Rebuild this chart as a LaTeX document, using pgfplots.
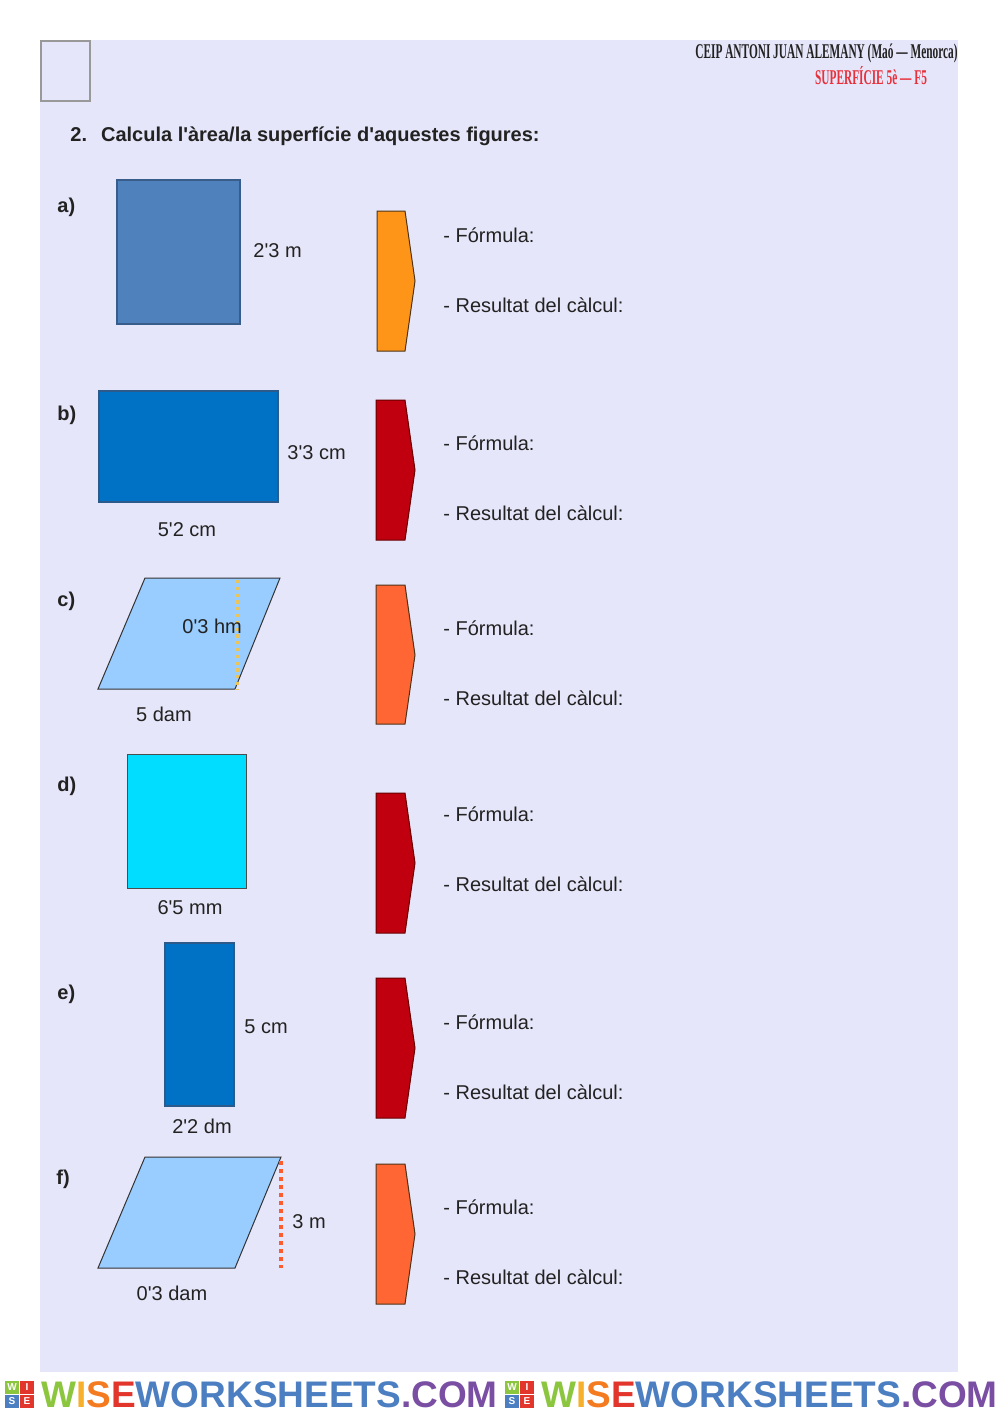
\documentclass[border=0pt]{standalone}
\usepackage{pgfplots}
\pgfplotsset{compat=1.18}
\usepackage{graphicx}
\usepackage{fontspec}
\setmainfont{Liberation Sans}
\newfontfamily\headfont{Liberation Serif}
\newcommand{\q}{\textquotesingle}
\definecolor{bg}{HTML}{E6E6FA}
\definecolor{txt}{HTML}{222222}
\definecolor{sqA}{HTML}{4F81BD}
\definecolor{sqAb}{HTML}{385D8A}
\definecolor{recB}{HTML}{0072C6}
\definecolor{recBb}{HTML}{2C5A8A}
\definecolor{para}{HTML}{99CCFF}
\definecolor{cyanD}{HTML}{00DDFF}
\definecolor{arOr}{HTML}{FF9518}
\definecolor{arRed}{HTML}{C0000F}
\definecolor{arOr2}{HTML}{FF6633}
\definecolor{hdred}{HTML}{E8303A}
\definecolor{dotY}{HTML}{EBC55A}
\definecolor{wG}{HTML}{8CC63F}
\definecolor{wY}{HTML}{F7B02C}
\definecolor{wO}{HTML}{F47B20}
\definecolor{wR}{HTML}{E2352B}
\definecolor{wB}{HTML}{4C7EC2}
\definecolor{wP}{HTML}{7A4EA3}

\begin{document}
\begin{tikzpicture}
\begin{axis}[
    scale only axis,
    width=500pt, height=706.5pt,
    xmin=0, xmax=1000, ymin=0, ymax=1413,
    y dir=reverse,
    axis lines=none, ticks=none,
    clip=false,
    every axis plot/.append style={no marks},
    nodes={inner sep=0pt, text=txt, font=\fontsize{10}{12}\selectfont},
]
% page and sheet background
\addplot[fill=white, draw=none] coordinates {(0,0) (1000,0) (1000,1413) (0,1413)} -- cycle;
\addplot[fill=bg, draw=none] coordinates {(40,40) (958,40) (958,1372) (40,1372)} -- cycle;
\addplot[draw=gray!80, line width=0.6pt] coordinates {(41,41) (90,41) (90,101) (41,101)} -- cycle;

% header
\node[anchor=east] at (axis cs:958,53) {\scalebox{0.54}[1]{\headfont\bfseries\fontsize{10.5}{12}\selectfont CEIP ANTONI JUAN ALEMANY (Maó \textemdash{} Menorca)}};
\node[anchor=center] at (axis cs:871,76) {\scalebox{0.54}[1]{\headfont\bfseries\fontsize{10.5}{12}\selectfont\color{hdred} SUPERFÍCIE 5è \textemdash{} F5}};
\node[anchor=west, font=\bfseries\fontsize{10}{12}\selectfont] at (axis cs:70,136) {2.\hspace{7pt}Calcula l\q àrea/la superfície d\q aquestes figures:};

% item letters
\node[anchor=west, font=\bfseries\fontsize{10}{12}\selectfont] at (axis cs:57,207) {a)};
\node[anchor=west, font=\bfseries\fontsize{10}{12}\selectfont] at (axis cs:57,415) {b)};
\node[anchor=west, font=\bfseries\fontsize{10}{12}\selectfont] at (axis cs:57,601) {c)};
\node[anchor=west, font=\bfseries\fontsize{10}{12}\selectfont] at (axis cs:57,786) {d)};
\node[anchor=west, font=\bfseries\fontsize{10}{12}\selectfont] at (axis cs:57,994) {e)};
\node[anchor=west, font=\bfseries\fontsize{10}{12}\selectfont] at (axis cs:56,1179) {f)};

% a) square
\addplot[fill=sqA, draw=sqAb, line width=1.2pt] coordinates {(117,180) (240,180) (240,324) (117,324)} -- cycle;
\node[anchor=west] at (axis cs:253,251) {2\q 3 m};
% b) rectangle
\addplot[fill=recB, draw=recBb, line width=0.8pt] coordinates {(99,391) (278,391) (278,502) (99,502)} -- cycle;
\node[anchor=west] at (axis cs:287,453) {3\q 3 cm};
\node[anchor=center] at (axis cs:187,530) {5\q 2 cm};
% c) parallelogram
\addplot[fill=para, draw=black!80, line width=0.5pt] coordinates {(98,689) (145,578) (280,578) (235,689)} -- cycle;
\addplot[draw=dotY, line width=1.6pt, dash pattern=on 1.6pt off 1.8pt] coordinates {(237,580) (237,689)};
\node[anchor=west] at (axis cs:182,626) {0\q 3 hm};
\node[anchor=center] at (axis cs:164,714) {5 dam};
% d) square
\addplot[fill=cyanD, draw=black!70, line width=0.5pt] coordinates {(127,754) (246,754) (246,888) (127,888)} -- cycle;
\node[anchor=center] at (axis cs:190,908) {6\q 5 mm};
% e) rectangle
\addplot[fill=recB, draw=recBb, line width=1.2pt] coordinates {(165,943) (234,943) (234,1106) (165,1106)} -- cycle;
\node[anchor=west] at (axis cs:244,1027) {5 cm};
\node[anchor=center] at (axis cs:202,1126) {2\q 2 dm};
% f) parallelogram
\addplot[fill=para, draw=black!80, line width=0.5pt] coordinates {(98,1268) (145,1157) (281,1157) (235,1268)} -- cycle;
\addplot[draw=arOr2!90!red, line width=1.6pt, dash pattern=on 2pt off 2pt] coordinates {(281,1161) (281,1268)};
\node[anchor=west] at (axis cs:292,1222) {3 m};
\node[anchor=center] at (axis cs:172,1293) {0\q 3 dam};

% arrow tags
\addplot[fill=arOr, draw=black!60!brown, line width=0.5pt] coordinates {(377,211) (405,211) (415,281) (405,351) (377,351)} -- cycle;
\addplot[fill=arRed, draw=black!60!red, line width=0.5pt] coordinates {(376,400) (405,400) (415,470) (405,540) (376,540)} -- cycle;
\addplot[fill=arOr2, draw=black!60!brown, line width=0.5pt] coordinates {(376,585) (405,585) (415,655) (405,724) (376,724)} -- cycle;
\addplot[fill=arRed, draw=black!60!red, line width=0.5pt] coordinates {(376,793) (405,793) (415,863) (405,933) (376,933)} -- cycle;
\addplot[fill=arRed, draw=black!60!red, line width=0.5pt] coordinates {(376,978) (405,978) (415,1048) (405,1118) (376,1118)} -- cycle;
\addplot[fill=arOr2, draw=black!60!brown, line width=0.5pt] coordinates {(376,1164) (405,1164) (415,1234) (405,1304) (376,1304)} -- cycle;

% answer prompts
\node[anchor=west] at (axis cs:443,235) {- Fórmula:};
\node[anchor=west] at (axis cs:443,305) {- Resultat del càlcul:};
\node[anchor=west] at (axis cs:443,443) {- Fórmula:};
\node[anchor=west] at (axis cs:443,513) {- Resultat del càlcul:};
\node[anchor=west] at (axis cs:443,628) {- Fórmula:};
\node[anchor=west] at (axis cs:443,698) {- Resultat del càlcul:};
\node[anchor=west] at (axis cs:443,814) {- Fórmula:};
\node[anchor=west] at (axis cs:443,884) {- Resultat del càlcul:};
\node[anchor=west] at (axis cs:443,1022) {- Fórmula:};
\node[anchor=west] at (axis cs:443,1092) {- Resultat del càlcul:};
\node[anchor=west] at (axis cs:443,1207) {- Fórmula:};
\node[anchor=west] at (axis cs:443,1277) {- Resultat del càlcul:};

% footer banner (two copies)
\pgfplotsinvokeforeach{5,505}{
  \addplot[fill=wG, draw=none] coordinates {(#1,1381) (#1+14,1381) (#1+14,1394) (#1,1394)} -- cycle;
  \addplot[fill=wR, draw=none] coordinates {(#1+15,1381) (#1+29,1381) (#1+29,1394) (#1+15,1394)} -- cycle;
  \addplot[fill=wB, draw=none] coordinates {(#1,1395) (#1+14,1395) (#1+14,1408) (#1,1408)} -- cycle;
  \addplot[fill=wR, draw=none] coordinates {(#1+15,1395) (#1+29,1395) (#1+29,1408) (#1+15,1408)} -- cycle;
  \node[anchor=center, text=white, font=\bfseries\fontsize{5}{5}\selectfont] at (axis cs:#1+7,1387.5) {W};
  \node[anchor=center, text=white, font=\bfseries\fontsize{5}{5}\selectfont] at (axis cs:#1+22,1387.5) {I};
  \node[anchor=center, text=white, font=\bfseries\fontsize{5}{5}\selectfont] at (axis cs:#1+7,1401.5) {S};
  \node[anchor=center, text=white, font=\bfseries\fontsize{5}{5}\selectfont] at (axis cs:#1+22,1401.5) {E};
  \node[anchor=west, font=\bfseries\fontsize{18.5}{18.5}\selectfont] at (axis cs:#1+36,1395)
    {\textcolor{wG}{W}\textcolor{wY}{I}\textcolor{wO}{S}\textcolor{wR}{E}\textcolor{wB}{WORKSHEETS}\textcolor{wP}{.COM}};
}
\end{axis}
\end{tikzpicture}
\end{document}
